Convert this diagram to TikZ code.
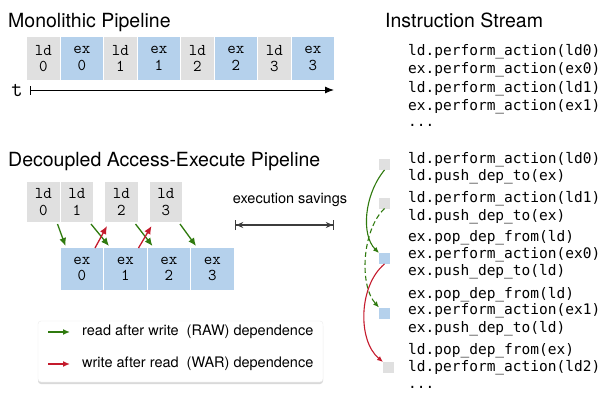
\documentclass[tikz,border=0pt]{standalone}
\usepackage{fontspec}
\setmainfont{TeX Gyre Heros}
\newfontfamily\codefont{DejaVu Sans Mono}
\usetikzlibrary{arrows.meta,positioning,calc,shadows}
\definecolor{daeGray}{HTML}{E0E0E0}
\definecolor{daeBlue}{HTML}{B5D1EC}
\definecolor{daeGreen}{HTML}{2F7A0E}
\definecolor{daeRed}{HTML}{C41A2C}
\definecolor{daeInk}{HTML}{3C3C3C}
\tikzset{
  stage box/.style={inner sep=0pt,outer sep=0pt,align=center,minimum height=43pt,
    font=\fontsize{16.5}{16.5}\selectfont\ttfamily},
  ld box/.style={stage box,fill=daeGray,minimum width=32.5pt},
  ex box/.style={stage box,fill=daeBlue,minimum width=42.5pt},
  title/.style={anchor=base west,inner sep=0pt,font=\fontsize{19.5}{20}\selectfont},
  code line/.style={anchor=base west,inner sep=0pt,font=\fontsize{14.5}{15}\codefont},
  label text/.style={inner sep=0pt,font=\fontsize{14.5}{15}\selectfont},
  marker/.style={inner sep=0pt,outer sep=0pt,minimum size=11pt},
  legend box/.style={draw=black!8,fill=white,rounded corners=3pt,minimum width=285pt,
    minimum height=61pt,drop shadow={shadow xshift=0pt,shadow yshift=-2pt,opacity=.3}},
  raw arrow/.style={-{Latex[length=8pt,width=7pt]},line width=1.3pt,draw=daeGreen},
  war arrow/.style={-{Latex[length=8pt,width=7pt]},line width=1.3pt,draw=daeRed},
  time arrow/.style={{Bar[width=9pt]}-{Latex[length=9pt,width=7pt]},line width=1pt},
  savings arrow/.style={{Bar[width=10pt]Stealth[length=7pt,width=6pt]}-{Stealth[length=7pt,width=6pt]Bar[width=10pt]},
    line width=1.2pt,draw=daeInk}
}
\begin{document}
\begin{tikzpicture}[x=1pt,y=-1pt]
\useasboundingbox (0,0) rectangle (607,399);
% monolithic pipeline
\node[title] (monoTitle) at (8,27) {Monolithic Pipeline};
\node[ld box] (m0) at (43.25,58.5) {ld\\0};
\node[ex box,right=1pt of m0] (mx0) {ex\\0};
\node[ld box,right=1pt of mx0] (m1) {ld\\1};
\node[ex box,right=1pt of m1] (mx1) {ex\\1};
\node[ld box,right=1pt of mx1] (m2) {ld\\2};
\node[ex box,right=1pt of m2] (mx2) {ex\\2};
\node[ld box,right=1pt of mx2] (m3) {ld\\3};
\node[ex box,right=1pt of m3] (mx3) {ex\\3};
\node[inner sep=0pt,font=\fontsize{22}{22}\selectfont\ttfamily] (tlabel) at (17,90) {t};
\draw[time arrow] ([xshift=7pt]tlabel.east) -- (mx3.east |- tlabel.east);

% instruction stream
\node[title] (streamTitle) at (385,27) {Instruction Stream};
\foreach \y/\txt [count=\k] in {55/ld.perform\_action(ld0),73.5/ex.perform\_action(ex0),
    92/ld.perform\_action(ld1),110.5/ex.perform\_action(ex1)}
  \node[code line] (top\k) at (408,\y) {\txt};
\node[code line] (topDots) at (408,126) {...};

% decoupled pipeline
\node[title] (daeTitle) at (8,166) {Decoupled Access-Execute Pipeline};
\node[ld box,minimum height=40pt] (d0) at (43.25,202) {ld\\0};
\node[ld box,minimum height=40pt,right=1pt of d0] (d1) {ld\\1};
\node[ld box,minimum height=40pt,right=12pt of d1] (d2) {ld\\2};
\node[ld box,minimum height=40pt,right=12pt of d2] (d3) {ld\\3};
\node[ex box,minimum height=42pt,below=26pt of d1.south west,anchor=north west] (dx0) {ex\\0};
\node[ex box,minimum height=42pt,right=1pt of dx0] (dx1) {ex\\1};
\node[ex box,minimum height=42pt,right=1pt of dx1] (dx2) {ex\\2};
\node[ex box,minimum height=42pt,right=1pt of dx2] (dx3) {ex\\3};
\foreach \i in {0,1,2,3}
  \draw[raw arrow] ([xshift=-2pt,yshift=-2pt]d\i.south east) -- ([xshift=5pt,yshift=2pt]dx\i.north west);
\draw[war arrow] ([xshift=-8pt]dx0.north east) -- ([xshift=2pt,yshift=-4pt]d2.south west);
\draw[war arrow] ([xshift=-8pt]dx1.north east) -- ([xshift=2pt,yshift=-4pt]d3.south west);

% execution savings
\node[label text] (savingsText) at (290,200) {execution savings};
\coordinate (savL) at (235,225);
\coordinate (savR) at (mx3.east |- savL);
\draw[savings arrow] (savL) -- (savR);

% legend
\node[legend box] (legend) at (180.5,351.5) {};
\node[label text,anchor=west] (rawText) at (82,332) {read after write~ (RAW) dependence};
\node[label text,anchor=west] (warText) at (82,364) {write after read~ (WAR) dependence};
\draw[raw arrow,line width=2pt,-{Latex[length=7pt,width=6pt]}] ([xshift=-34pt]rawText.west) -- ([xshift=-12pt]rawText.west);
\draw[war arrow,line width=2pt,-{Latex[length=7pt,width=6pt]}] ([xshift=-34pt]warText.west) -- ([xshift=-12pt]warText.west);

% decoupled instruction stream
\foreach \y/\txt [count=\k] in {163/ld.perform\_action(ld0),180/ld.push\_dep\_to(ex),
    202.3/ld.perform\_action(ld1),220/ld.push\_dep\_to(ex),
    241.7/ex.pop\_dep\_from(ld),258.3/ex.perform\_action(ex0),275.7/ex.push\_dep\_to(ld),
    298/ex.pop\_dep\_from(ld),314.7/ex.perform\_action(ex1),332.3/ex.push\_dep\_to(ld),
    354/ld.pop\_dep\_from(ex),371.3/ld.perform\_action(ld2)}
  \node[code line] (low\k) at (408,\y) {\txt};
\node[code line] (lowDots) at (408,388) {...};
\node[marker,fill=daeGray] (q1) at (384.5,164.5) {};
\node[marker,fill=daeGray] (q2) at (384.5,203) {};
\node[marker,fill=daeBlue] (q3) at (384.5,258.5) {};
\node[marker,fill=daeBlue] (q4) at (384.5,313) {};
\node[marker,fill=daeGray] (q5) at (388.5,367.5) {};
\draw[raw arrow,line width=1.1pt,-{Latex[length=6pt,width=5pt]}] (q1.south) .. controls (364,195) and (361,235) .. (q3.north west);
\draw[raw arrow,line width=1.1pt,dash pattern=on 5pt off 3pt,-{Latex[length=6pt,width=5pt]}] (q2.south) .. controls (362,230) and (359,285) .. (q4.north west);
\draw[war arrow,line width=1.1pt,-{Latex[length=6pt,width=5pt]}] (q3.south) .. controls (359,285) and (357,340) .. (q5.north west);
\end{tikzpicture}
\end{document}
